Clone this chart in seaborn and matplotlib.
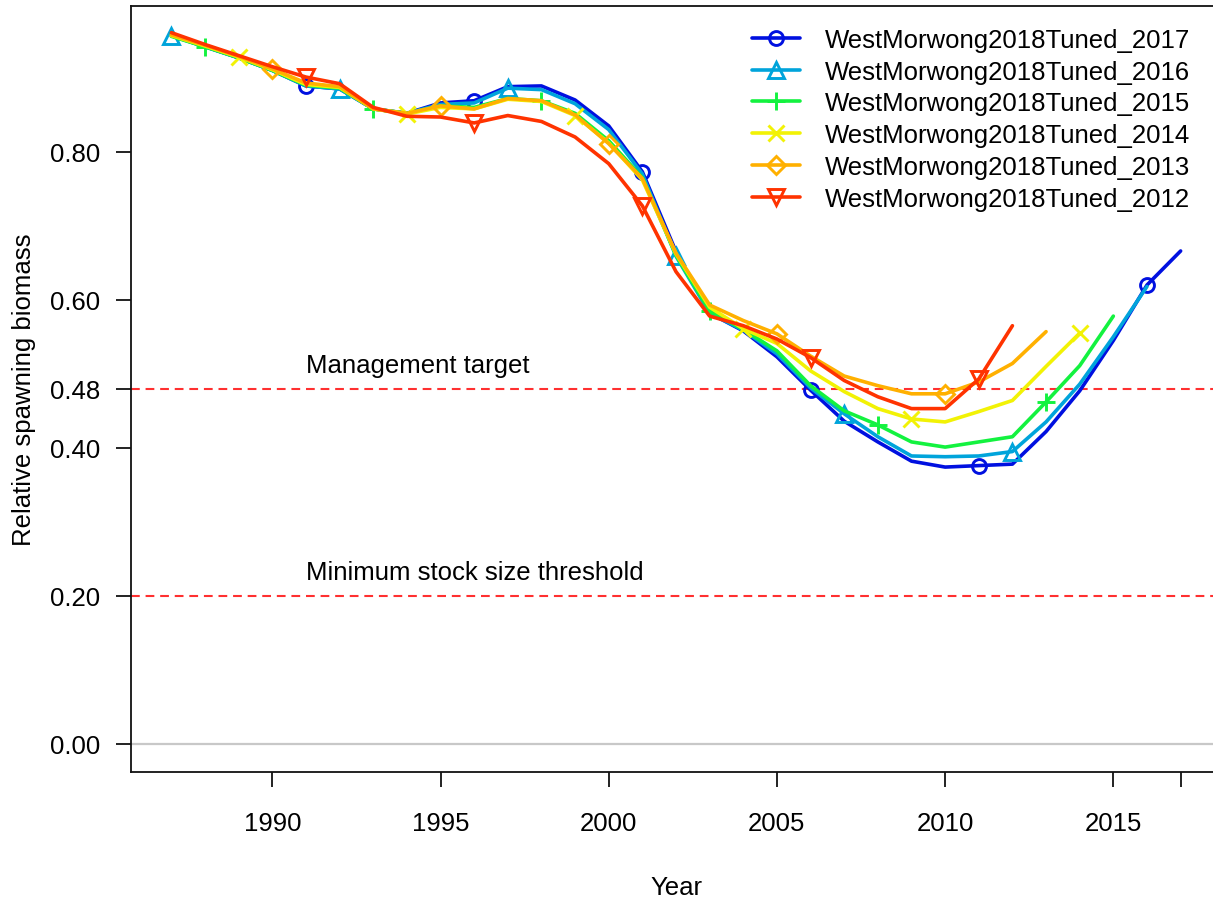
import numpy as np
import pandas as pd
import matplotlib
matplotlib.use("Agg")
import matplotlib.pyplot as plt
import seaborn as sns

# ---------------- data ----------------
model_names = ["WestMorwong2018Tuned_2017", "WestMorwong2018Tuned_2016",
               "WestMorwong2018Tuned_2015", "WestMorwong2018Tuned_2014",
               "WestMorwong2018Tuned_2013", "WestMorwong2018Tuned_2012"]
start_year = 1987

sb_2017 = [0.957, 0.942, 0.927, 0.910, 0.889, 0.885, 0.858, 0.852, 0.866, 0.869,
           0.888, 0.889, 0.870, 0.835, 0.773, 0.665, 0.582, 0.558, 0.523, 0.478,
           0.436, 0.408, 0.382, 0.374, 0.376, 0.378, 0.422, 0.477, 0.545, 0.620,
           0.666]
sb_2016 = [0.957, 0.942, 0.927, 0.910, 0.889, 0.885, 0.858, 0.852, 0.864, 0.866,
           0.886, 0.884, 0.865, 0.830, 0.770, 0.659, 0.582, 0.559, 0.527, 0.481,
           0.446, 0.415, 0.389, 0.388, 0.389, 0.395, 0.435, 0.486, 0.550, 0.618]
sb_2015 = [0.956, 0.942, 0.927, 0.910, 0.890, 0.886, 0.858, 0.852, 0.862, 0.860,
           0.872, 0.869, 0.852, 0.815, 0.765, 0.660, 0.585, 0.560, 0.531, 0.484,
           0.450, 0.431, 0.408, 0.401, 0.408, 0.415, 0.462, 0.511, 0.578]
sb_2014 = [0.957, 0.943, 0.928, 0.911, 0.891, 0.887, 0.858, 0.851, 0.860, 0.858,
           0.871, 0.868, 0.849, 0.812, 0.762, 0.662, 0.590, 0.561, 0.541, 0.504,
           0.476, 0.453, 0.439, 0.435, 0.449, 0.464, 0.510, 0.555]
sb_2013 = [0.958, 0.944, 0.929, 0.912, 0.893, 0.888, 0.858, 0.852, 0.862, 0.858,
           0.872, 0.869, 0.850, 0.811, 0.764, 0.663, 0.593, 0.572, 0.554, 0.524,
           0.497, 0.484, 0.473, 0.473, 0.489, 0.514, 0.557]
sb_2012 = [0.961, 0.945, 0.930, 0.915, 0.901, 0.892, 0.860, 0.848, 0.847, 0.839,
           0.849, 0.841, 0.820, 0.784, 0.727, 0.638, 0.578, 0.565, 0.547, 0.522,
           0.491, 0.469, 0.453, 0.453, 0.493, 0.565]
series_values = [sb_2017, sb_2016, sb_2015, sb_2014, sb_2013, sb_2012]

ref_levels = [0.48, 0.20]
ref_labels = ["Management target", "Minimum stock size threshold"]
ytick_values = [0.00, 0.20, 0.40, 0.48, 0.60, 0.80]
xtick_values = [1990, 1995, 2000, 2005, 2010, 2015, 2017]
xtick_labels = ["1990", "1995", "2000", "2005", "2010", "2015", ""]

# ---------------- styles ----------------
colors = ["#0010E0", "#00A4DB", "#13F23F", "#F2F205", "#FFB000", "#FF3300"]
markers = ["o", "^", "+", "x", "D", "v"]
msizes = [10, 11, 13, 12, 9, 11]
mark_offsets = [4, 0, 1, 2, 3, 4]

sns.set_style("ticks")
plt.rcParams["font.family"] = ["Liberation Sans", "DejaVu Sans"]
plt.rcParams["text.color"] = "black"
plt.rcParams["axes.labelcolor"] = "black"
plt.rcParams["xtick.color"] = "black"
plt.rcParams["ytick.color"] = "black"

fig = plt.figure(figsize=(12.13, 9.04), dpi=100)
ax = fig.add_axes([131 / 1213, 1 - 773 / 904, 1090 / 1213, 766 / 904])

rows = []
for name, vals in zip(model_names, series_values):
    for i, v in enumerate(vals):
        rows.append({"model": name, "year": start_year + i, "sb": v})
df = pd.DataFrame(rows)

# reference lines
ax.axhline(0.0, color="#C8C8C8", lw=1.6, zorder=1)
for lev, lab in zip(ref_levels, ref_labels):
    ax.axhline(lev, color="#FF3030", lw=1.5, dashes=(4.2, 2.8), zorder=1)
    ax.text(1991, lev + 0.023, lab, fontsize=18.5, va="baseline", ha="left",
            color="black")

for k, name in enumerate(model_names):
    sub = df[df["model"] == name]
    sns.lineplot(data=sub, x="year", y="sb", ax=ax, color=colors[k],
                 lw=2.6, marker=markers[k], markersize=msizes[k],
                 markevery=slice(mark_offsets[k], None, 5),
                 mfc="none", mec=colors[k], mew=2.1, label=name,
                 zorder=3 + k, legend=False)

ax.set_xlim(1985.8, 2018.2)
ax.set_ylim(-0.038, 0.997)
ax.set_yticks(ytick_values)
ax.set_yticklabels([f"{v:.2f}" for v in ytick_values])
ax.set_xticks(xtick_values)
ax.set_xticklabels(xtick_labels)
ax.tick_params(axis="both", labelsize=18.5, length=11, width=1.3,
               color="#111111", labelcolor="black", direction="out")
ax.tick_params(axis="y", pad=11)
ax.tick_params(axis="x", pad=17)
for s in ax.spines.values():
    s.set_visible(True)
    s.set_linewidth(1.3)
    s.set_color("#111111")

ax.set_xlabel("Year", fontsize=18.5, labelpad=29, color="black")
ax.set_ylabel("Relative spawning biomass", fontsize=18.5, labelpad=10,
              color="black")

handles, labels = ax.get_legend_handles_labels()
leg = ax.legend(handles, labels, loc="upper left",
                bbox_to_anchor=(752 / 1213, 1 - 29 / 904),
                bbox_transform=fig.transFigure, frameon=False,
                fontsize=18.5, handlelength=1.85, handletextpad=1.0,
                labelspacing=0.30, borderpad=0, borderaxespad=0)
for t in leg.get_texts():
    t.set_color("black")

fig.savefig("out.png", dpi=100)
